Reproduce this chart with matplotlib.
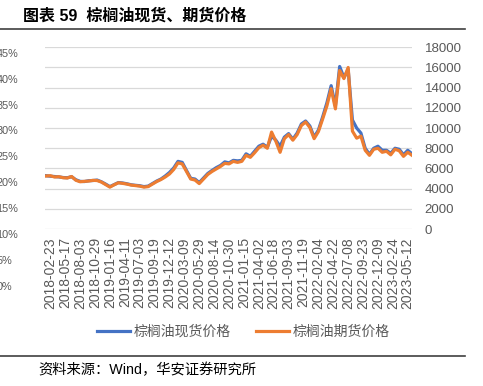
import matplotlib
matplotlib.use("Agg")
import matplotlib.pyplot as plt
from matplotlib.lines import Line2D
import numpy as np

# ---------------- data ----------------
tick_labels = ["2018-02-23", "2018-05-17", "2018-08-03", "2018-10-29", "2019-01-16",
               "2019-04-11", "2019-07-03", "2019-09-19", "2019-12-12", "2020-03-09",
               "2020-05-29", "2020-08-14", "2020-10-30", "2021-01-15", "2021-04-02",
               "2021-06-18", "2021-09-03", "2021-11-19", "2022-02-04", "2022-04-22",
               "2022-07-08", "2022-09-23", "2022-12-09", "2023-02-24", "2023-05-12"]

spot = [5280, 5230, 5200, 5160, 5100, 5080, 5180, 4880, 4720, 4700,
        4780, 4800, 4850, 4680, 4450, 4200, 4400, 4600, 4560, 4480,
        4380, 4330, 4290, 4200, 4250, 4500, 4750, 4950, 5250, 5600,
        6050, 6700, 6600, 5800, 5020, 4950, 4600, 5050, 5500, 5800,
        6080, 6300, 6650, 6550, 6800, 6750, 6800, 7450, 7200, 7700,
        8200, 8400, 8100, 9200, 8800, 8200, 9100, 9450, 8900, 9500,
        10400, 10700, 10200, 9100, 9800, 11100, 12500, 14200, 12200, 16100,
        15000, 15800, 10800, 10000, 9500, 8000, 7400, 8000, 8200, 7800,
        7800, 7500, 8000, 7900, 7350, 7800, 7450]

futures = [5250, 5280, 5150, 5180, 5080, 5050, 5200, 4830, 4680, 4720,
           4750, 4820, 4800, 4650, 4400, 4150, 4380, 4580, 4520, 4450,
           4350, 4300, 4250, 4150, 4200, 4450, 4700, 4900, 5150, 5450,
           5900, 6550, 6450, 5700, 4950, 4850, 4500, 4950, 5400, 5700,
           5950, 6200, 6500, 6450, 6700, 6600, 6700, 7300, 7100, 7550,
           8050, 8300, 8000, 9600, 8700, 7600, 8950, 9350, 8800, 9350,
           10250, 10600, 10050, 8950, 9650, 10900, 12200, 13900, 11900, 15700,
           14900, 16000, 9700, 9000, 9200, 7800, 7300, 7900, 8000, 7600,
           7700, 7350, 7900, 7750, 7200, 7600, 7300]

left_pct_labels = ["45%", "40%", "35%", "30%", "25%", "20%", "15%", "10%", "5%", "0%"]

title = "图表 59  棕榈油现货、期货价格"
source = "资料来源：Wind，华安证券研究所"
series_names = ["棕榈油现货价格", "棕榈油期货价格"]

# ---------------- figure ----------------
W, H = 483, 386
fig = plt.figure(figsize=(W / 100, H / 100), dpi=100)

def fx(px):
    return px / W

def fy(py):
    return 1 - py / H

ax = fig.add_axes([fx(45), fy(229), fx(412) - fx(45), fy(47.3) - fy(229)])

x = np.arange(len(spot))
blue = "#4472C4"
orange = "#ED7D31"
ax.plot(x, spot, color=blue, lw=2.3, solid_joinstyle="round", zorder=3)
ax.plot(x, futures, color=orange, lw=2.3, solid_joinstyle="round", zorder=4)

ax.set_xlim(-0.25, len(spot) - 1)
ax.set_ylim(0, 18000)
ax.set_yticks(np.arange(0, 18001, 2000))
ax.yaxis.tick_right()
ax.grid(axis="y", color="#D9D9D9", lw=0.9)
ax.set_axisbelow(True)
for s in ax.spines.values():
    s.set_visible(False)

num_font = ["Liberation Sans", "DejaVu Sans"]
ax.tick_params(axis="y", length=0, pad=9, labelsize=9.5, labelcolor="#595959")
for lab in ax.get_yticklabels():
    lab.set_family(num_font)

# one date label every 3.5 samples, starting at sample 1
tick_pos = 1 + 3.5 * np.arange(len(tick_labels))
ax.set_xticks(tick_pos)
ax.set_xticklabels(tick_labels, rotation=90, fontsize=10,
                   color="#595959", family=num_font)
ax.tick_params(axis="x", length=0, pad=6)

# cropped left-axis labels (left part cut by the image edge, as in the source)
left_y = [54, 79.7, 105.5, 131, 156.5, 183, 209, 235, 261, 287]
for lab, py in zip(left_pct_labels, left_y):
    fig.text(fx(-3.5), fy(py), lab, ha="left", va="center", fontsize=7.8,
             color="#595959", family=num_font)

# title and rules
cjk = ["Noto Sans CJK SC", "DejaVu Sans"]
fig.text(fx(23), fy(16), title, ha="left", va="center", fontsize=11.5,
         fontweight="bold", family=["Liberation Sans", "Noto Sans CJK SC"], color="#000000")
fig.add_artist(Line2D([0, fx(465)], [fy(28.5), fy(28.5)], color="#404040", lw=1.2))
fig.add_artist(Line2D([0, fx(465)], [fy(356), fy(356)], color="#404040", lw=1.2))
fig.text(fx(38), fy(370), source, ha="left", va="center", fontsize=10.3,
         family=["Liberation Sans", "Noto Sans CJK SC"], color="#000000")

# legend
handles = [Line2D([], [], color=blue, lw=2.3), Line2D([], [], color=orange, lw=2.3)]
leg = fig.legend(handles, series_names, loc="center", bbox_to_anchor=(fx(243), fy(332)),
                 ncol=2, frameon=False, handlelength=2.4, handletextpad=0.25,
                 columnspacing=1.8, prop={"family": cjk, "size": 10})
for t in leg.get_texts():
    t.set_color("#595959")

fig.savefig("out.png", dpi=100)
